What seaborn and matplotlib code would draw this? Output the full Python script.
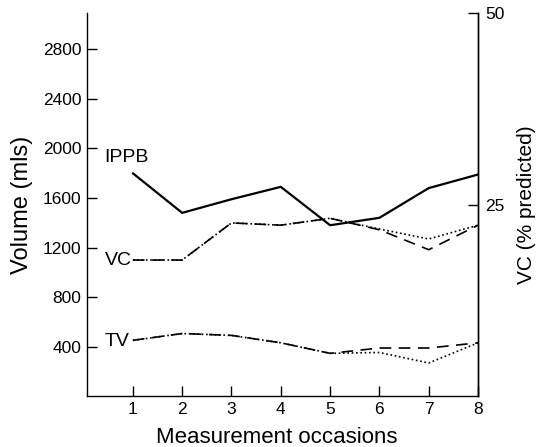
import numpy as np
import pandas as pd
import matplotlib
matplotlib.use('Agg')
import matplotlib.pyplot as plt
import seaborn as sns

sns.set_style('ticks')
plt.rcParams['font.family'] = ['Liberation Sans', 'DejaVu Sans']
plt.rcParams['text.color'] = 'black'
plt.rcParams['axes.labelcolor'] = 'black'
plt.rcParams['xtick.color'] = 'black'
plt.rcParams['ytick.color'] = 'black'

# values
occasions = [1, 2, 3, 4, 5, 6, 7, 8]
ippb = [1800, 1480, 1590, 1690, 1380, 1440, 1680, 1790]
vc_dashed = [17.75, 17.75, 22.6, 22.3, 23.2, 21.7, 19.1, 22.3]
vc_dotted = [17.75, 17.75, 22.6, 22.3, 23.2, 21.8, 20.5, 22.3]
tv_dashed = [450, 505, 490, 430, 345, 388, 388, 430]
tv_dotted = [450, 505, 490, 430, 345, 352, 267, 430]
vol_ticks = [400, 800, 1200, 1600, 2000, 2400, 2800]
pct_ticks = [25, 50]

dashed = (0, (7, 4.5))
dotted = (0, (1, 1.6))

fig = plt.figure(figsize=(5.42, 4.47), dpi=100)
ax = fig.add_axes([0.1605, 0.114, 0.7215, 0.857])
ax2 = ax.twinx()

sns.lineplot(x=occasions, y=ippb, ax=ax, color='black', lw=1.6)
sns.lineplot(x=occasions, y=tv_dashed, ax=ax, color='black', lw=1.2, linestyle=dashed)
sns.lineplot(x=occasions, y=tv_dotted, ax=ax, color='black', lw=1.2, linestyle=dotted)
sns.lineplot(x=occasions, y=vc_dashed, ax=ax2, color='black', lw=1.2, linestyle=dashed)
sns.lineplot(x=occasions, y=vc_dotted, ax=ax2, color='black', lw=1.2, linestyle=dotted)

ax.set_xlim(0.07, 8)
ax.set_ylim(0, 3095)
ax2.set_ylim(0, 50)

ax.set_xticks(occasions)
ax.set_yticks(vol_ticks)
ax2.set_yticks(pct_ticks)

ax.tick_params(direction='in', length=7, width=1, labelsize=12.5, pad=4, color='black', labelcolor='black')
ax2.tick_params(direction='in', length=7, width=1, labelsize=12.5, pad=5, color='black', labelcolor='black')

for a in (ax, ax2):
    a.spines['top'].set_visible(False)
    for s in ('left', 'right', 'bottom'):
        a.spines[s].set_linewidth(1)
        a.spines[s].set_color('black')
ax2.spines['left'].set_visible(False)
ax2.spines['bottom'].set_visible(False)

ax.set_xlabel('Measurement occasions', fontsize=16)
ax.xaxis.set_label_coords(0.486, -0.08)
ax.set_ylabel('Volume (mls)', fontsize=17, labelpad=7)
ax2.set_ylabel('VC (% predicted)', fontsize=15, labelpad=9)

ax.text(0.43, 1930, 'IPPB', fontsize=14, ha='left', va='center')
ax.text(0.43, 1099, 'VC', fontsize=14, ha='left', va='center')
ax.text(0.43, 444, 'TV', fontsize=14, ha='left', va='center')

fig.savefig('out.png', dpi=100)
